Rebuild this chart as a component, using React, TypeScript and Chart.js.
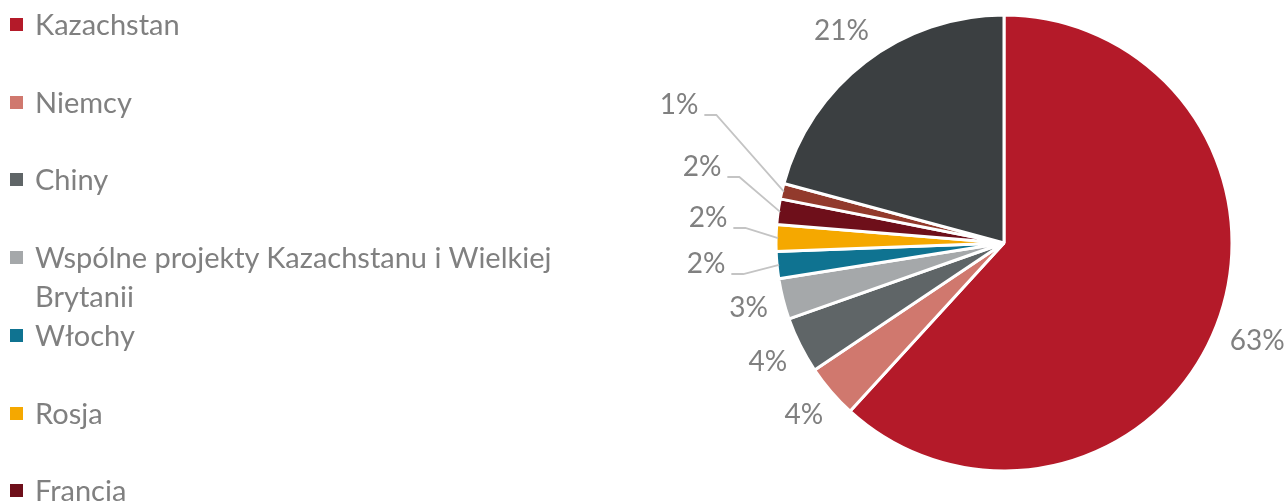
import { useEffect, useRef } from "react";
import { Chart, registerables } from "chart.js";

Chart.register(...registerables);

const categories = [
  "Kazachstan",
  "Niemcy",
  "Chiny",
  "Wspólne projekty Kazachstanu i Wielkiej Brytanii",
  "Włochy",
  "Rosja",
  "Francja",
  "Japonia",
  "Pozostałe",
];
const shares = [61.8, 3.8, 4.0, 2.9, 1.9, 1.9, 1.8, 1.1, 20.8];
const shareLabels = ["63%", "4%", "4%", "3%", "2%", "2%", "2%", "1%", "21%"];
const sliceColors = [
  "#B41A29",
  "#D0786E",
  "#5F6567",
  "#A5A8AA",
  "#0F7391",
  "#F5A800",
  "#6E0F1A",
  "#923A2C",
  "#3B3F41",
];

const FONT = "Lato, 'Open Sans', sans-serif";
const FONT_SIZE = 28;
const LEGEND_FONT_SIZE = 29;
const TEXT_COLOR = "#808080";
const LABEL_H = 22;
const LABEL_GAP = 14;
// offsets (relative to pie centre) of labels that use leader lines
const callouts: Record<number, [number, number]> = {
  4: [-298, 21],
  5: [-296, -25],
  6: [-302, -76],
  7: [-325, -138],
};

const labelPlugin = {
  id: "sliceLabels",
  afterDatasetsDraw(chart: any) {
    const ctx = chart.ctx as CanvasRenderingContext2D;
    const meta = chart.getDatasetMeta(0);
    ctx.save();
    ctx.font = `${FONT_SIZE}px ${FONT}`;
    ctx.fillStyle = TEXT_COLOR;
    ctx.textBaseline = "middle";
    ctx.textAlign = "center";
    meta.data.forEach((arc: any, i: number) => {
      const { x, y, startAngle, endAngle, outerRadius } = arc.getProps(
        ["x", "y", "startAngle", "endAngle", "outerRadius"],
        true
      );
      const mid = (startAngle + endAngle) / 2;
      const dx = Math.cos(mid);
      const dy = Math.sin(mid);
      const text = shareLabels[i];
      const w = ctx.measureText(text).width;
      const co = callouts[i];
      if (co) {
        const cx = x + co[0];
        const cy = y + co[1];
        ctx.fillText(text, cx, cy);
        const sx = cx + w / 2 + 6;
        const sy = cy + LABEL_H / 2 - 1;
        ctx.beginPath();
        ctx.moveTo(sx, sy);
        ctx.lineTo(sx + 12, sy);
        ctx.lineTo(x + dx * (outerRadius - 2), y + dy * (outerRadius - 2));
        ctx.strokeStyle = "#C4C4C4";
        ctx.lineWidth = 1.8;
        ctx.stroke();
      } else {
        const ext = (Math.abs(dx) * w) / 2 + (Math.abs(dy) * LABEL_H) / 2;
        const r = outerRadius + LABEL_GAP + ext;
        ctx.fillText(text, x + dx * r, y + dy * r);
      }
    });
    ctx.restore();
  },
};

export default function App() {
  const canvasRef = useRef<HTMLCanvasElement | null>(null);

  useEffect(() => {
    if (!canvasRef.current) return;
    const chart = new Chart(canvasRef.current, {
      type: "pie",
      data: {
        labels: categories,
        datasets: [
          {
            data: shares,
            backgroundColor: sliceColors,
            borderColor: "#FFFFFF",
            borderWidth: 3,
            radius: 228,
          } as any,
        ],
      },
      options: {
        responsive: false,
        animation: false,
        layout: { padding: { left: 733, right: 10, top: 0, bottom: 15 } },
        plugins: {
          legend: { display: false },
          tooltip: { enabled: false },
        },
      },
      plugins: [labelPlugin],
    });
    return () => chart.destroy();
  }, []);

  return (
    <div
      style={{
        position: "fixed",
        left: 0,
        top: 0,
        width: 1285,
        height: 501,
        overflow: "hidden",
        background: "#FFFFFF",
      }}
    >
      <canvas ref={canvasRef} width={1285} height={501} style={{ position: "absolute", left: 0, top: 0 }} />
      {categories.map((c, i) => (
        <div
          key={c}
          style={{
            position: "absolute",
            left: 0,
            top: 4 + i * 77.7,
            display: "flex",
            alignItems: "flex-start",
            fontFamily: FONT,
            fontSize: LEGEND_FONT_SIZE,
            lineHeight: "39px",
            color: TEXT_COLOR,
          }}
        >
          <div
            style={{
              width: 13,
              height: 13,
              marginLeft: 10,
              marginTop: 14,
              marginRight: 12,
              background: sliceColors[i],
              flex: "none",
            }}
          />
          <div style={{ width: 570 }}>{c}</div>
        </div>
      ))}
    </div>
  );
}
